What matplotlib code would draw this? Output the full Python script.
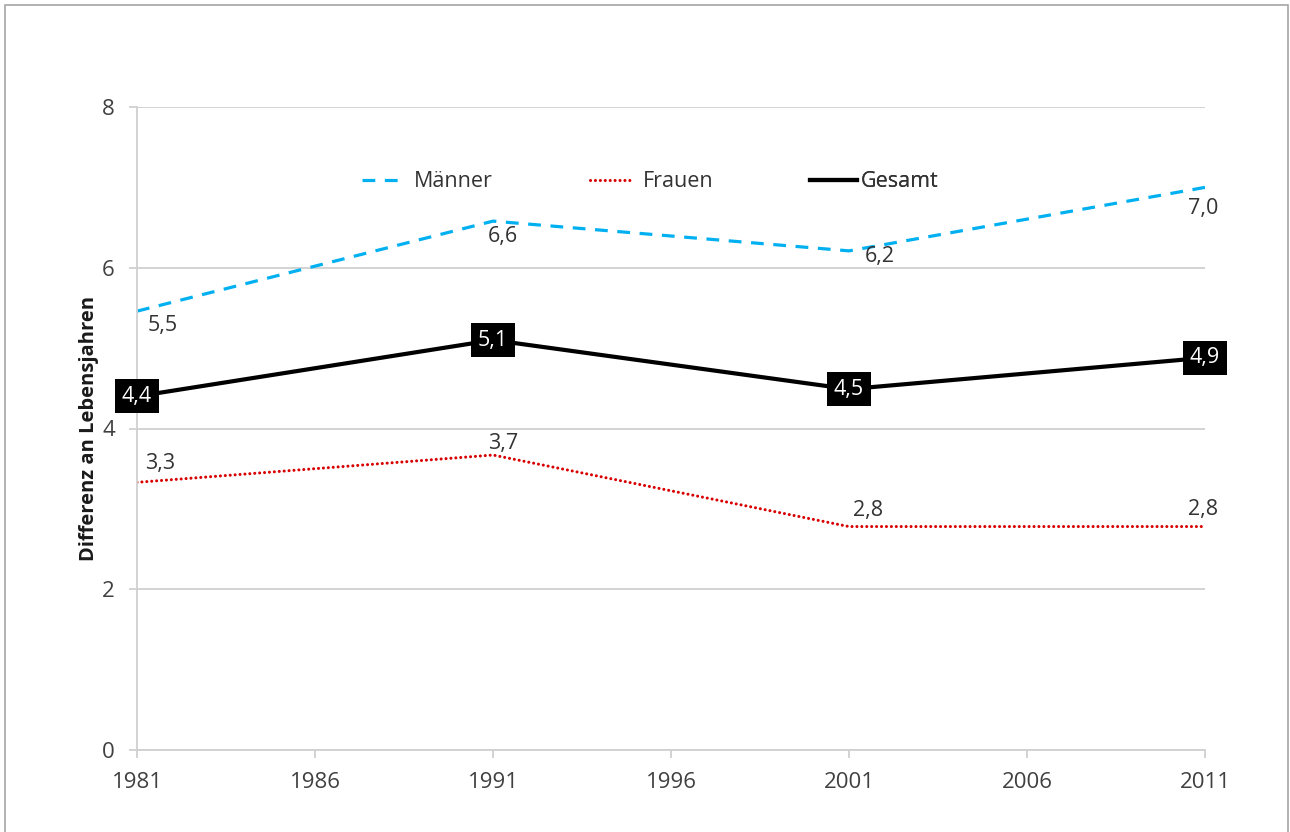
import matplotlib.pyplot as plt
from matplotlib.patches import Rectangle

# Data
years = [1981, 1991, 2001, 2011]
maenner = [5.46, 6.58, 6.21, 7.0]
frauen = [3.33, 3.67, 2.78, 2.78]
gesamt = [4.4, 5.1, 4.49, 4.88]
xticks = [1981, 1986, 1991, 1996, 2001, 2006, 2011]
yticks = [0, 2, 4, 6, 8]

# label offsets in pixels (dx, dy), y up
off_m = [(26, -14), (10, -15), (31, -6), (-2, -21)]
off_f = [(23, 19), (10, 12), (19, 16), (-2, 17)]

plt.rcParams['font.family'] = ['Open Sans', 'DejaVu Sans']
fs = 15.5
txt_col = '#333333'
grid_col = '#d0d0d0'

fig = plt.figure(figsize=(12.9, 8.32), dpi=100)
ax = fig.add_axes([137 / 1290, 1 - 750 / 832, 1068 / 1290, 643 / 832])

# outer frame
fig.patches.append(Rectangle((4.5 / 1290, -0.05), 1283.5 / 1290, 1.05 - 5 / 832,
                             transform=fig.transFigure, fill=False,
                             edgecolor='#a6a6a6', lw=1.2))

l_m, = ax.plot(years, maenner, color='#00b0f0', lw=2.3, linestyle=(0, (4, 3)),
               label='Männer')
l_f, = ax.plot(years, frauen, color='#d80000', lw=2.2, linestyle=(0, (0.01, 1.6)),
               dash_capstyle='round', label='Frauen')
l_g, = ax.plot(years, gesamt, color='black', lw=3, label='Gesamt')

fmt = lambda v: f'{v:.1f}'.replace('.', ',')
for x, v, o in zip(years, maenner, off_m):
    ax.annotate(fmt(v), (x, v), xytext=o, textcoords='offset pixels',
                ha='center', va='center', fontsize=fs, color=txt_col)
for x, v, o in zip(years, frauen, off_f):
    ax.annotate(fmt(v), (x, v), xytext=o, textcoords='offset pixels',
                ha='center', va='center', fontsize=fs, color=txt_col)
for x, v in zip(years, gesamt):
    ax.annotate(fmt(v), (x, v), ha='center', va='center', fontsize=fs,
                color='white', zorder=5,
                bbox=dict(boxstyle='square,pad=0.3', fc='black', ec='none'))

ax.set_xlim(1981, 2011)
ax.set_ylim(0, 8)
ax.set_xticks(xticks)
ax.set_yticks(yticks)
ax.grid(axis='y', color=grid_col, lw=1.3)
ax.set_axisbelow(True)
for s in ['top', 'right']:
    ax.spines[s].set_visible(False)
for s in ['left', 'bottom']:
    ax.spines[s].set_color(grid_col)
    ax.spines[s].set_linewidth(1.3)
ax.tick_params(axis='both', colors=grid_col, labelcolor='#404040',
               labelsize=16, length=6, width=1.3)
ax.tick_params(axis='y', pad=10)
ax.tick_params(axis='x', pad=10)
ax.set_ylabel('Differenz an Lebensjahren', fontsize=14.5, fontweight='bold',
              color='#1a1a1a', labelpad=2)

# legend entries
for line, x0, hl, tp in [(l_m, 0.2107, 1.7, 0.7), (l_f, 0.4242, 2.0, 0.45),
                         (l_g, 0.6301, 2.2, 0.15)]:
    leg = ax.legend(handles=[line], loc='center left', bbox_to_anchor=(x0, 0.8834),
                    frameon=False, fontsize=fs, borderpad=0, borderaxespad=0,
                    handlelength=hl, handletextpad=tp, labelcolor=txt_col)
    ax.add_artist(leg)

fig.savefig('out.png', dpi=100)
